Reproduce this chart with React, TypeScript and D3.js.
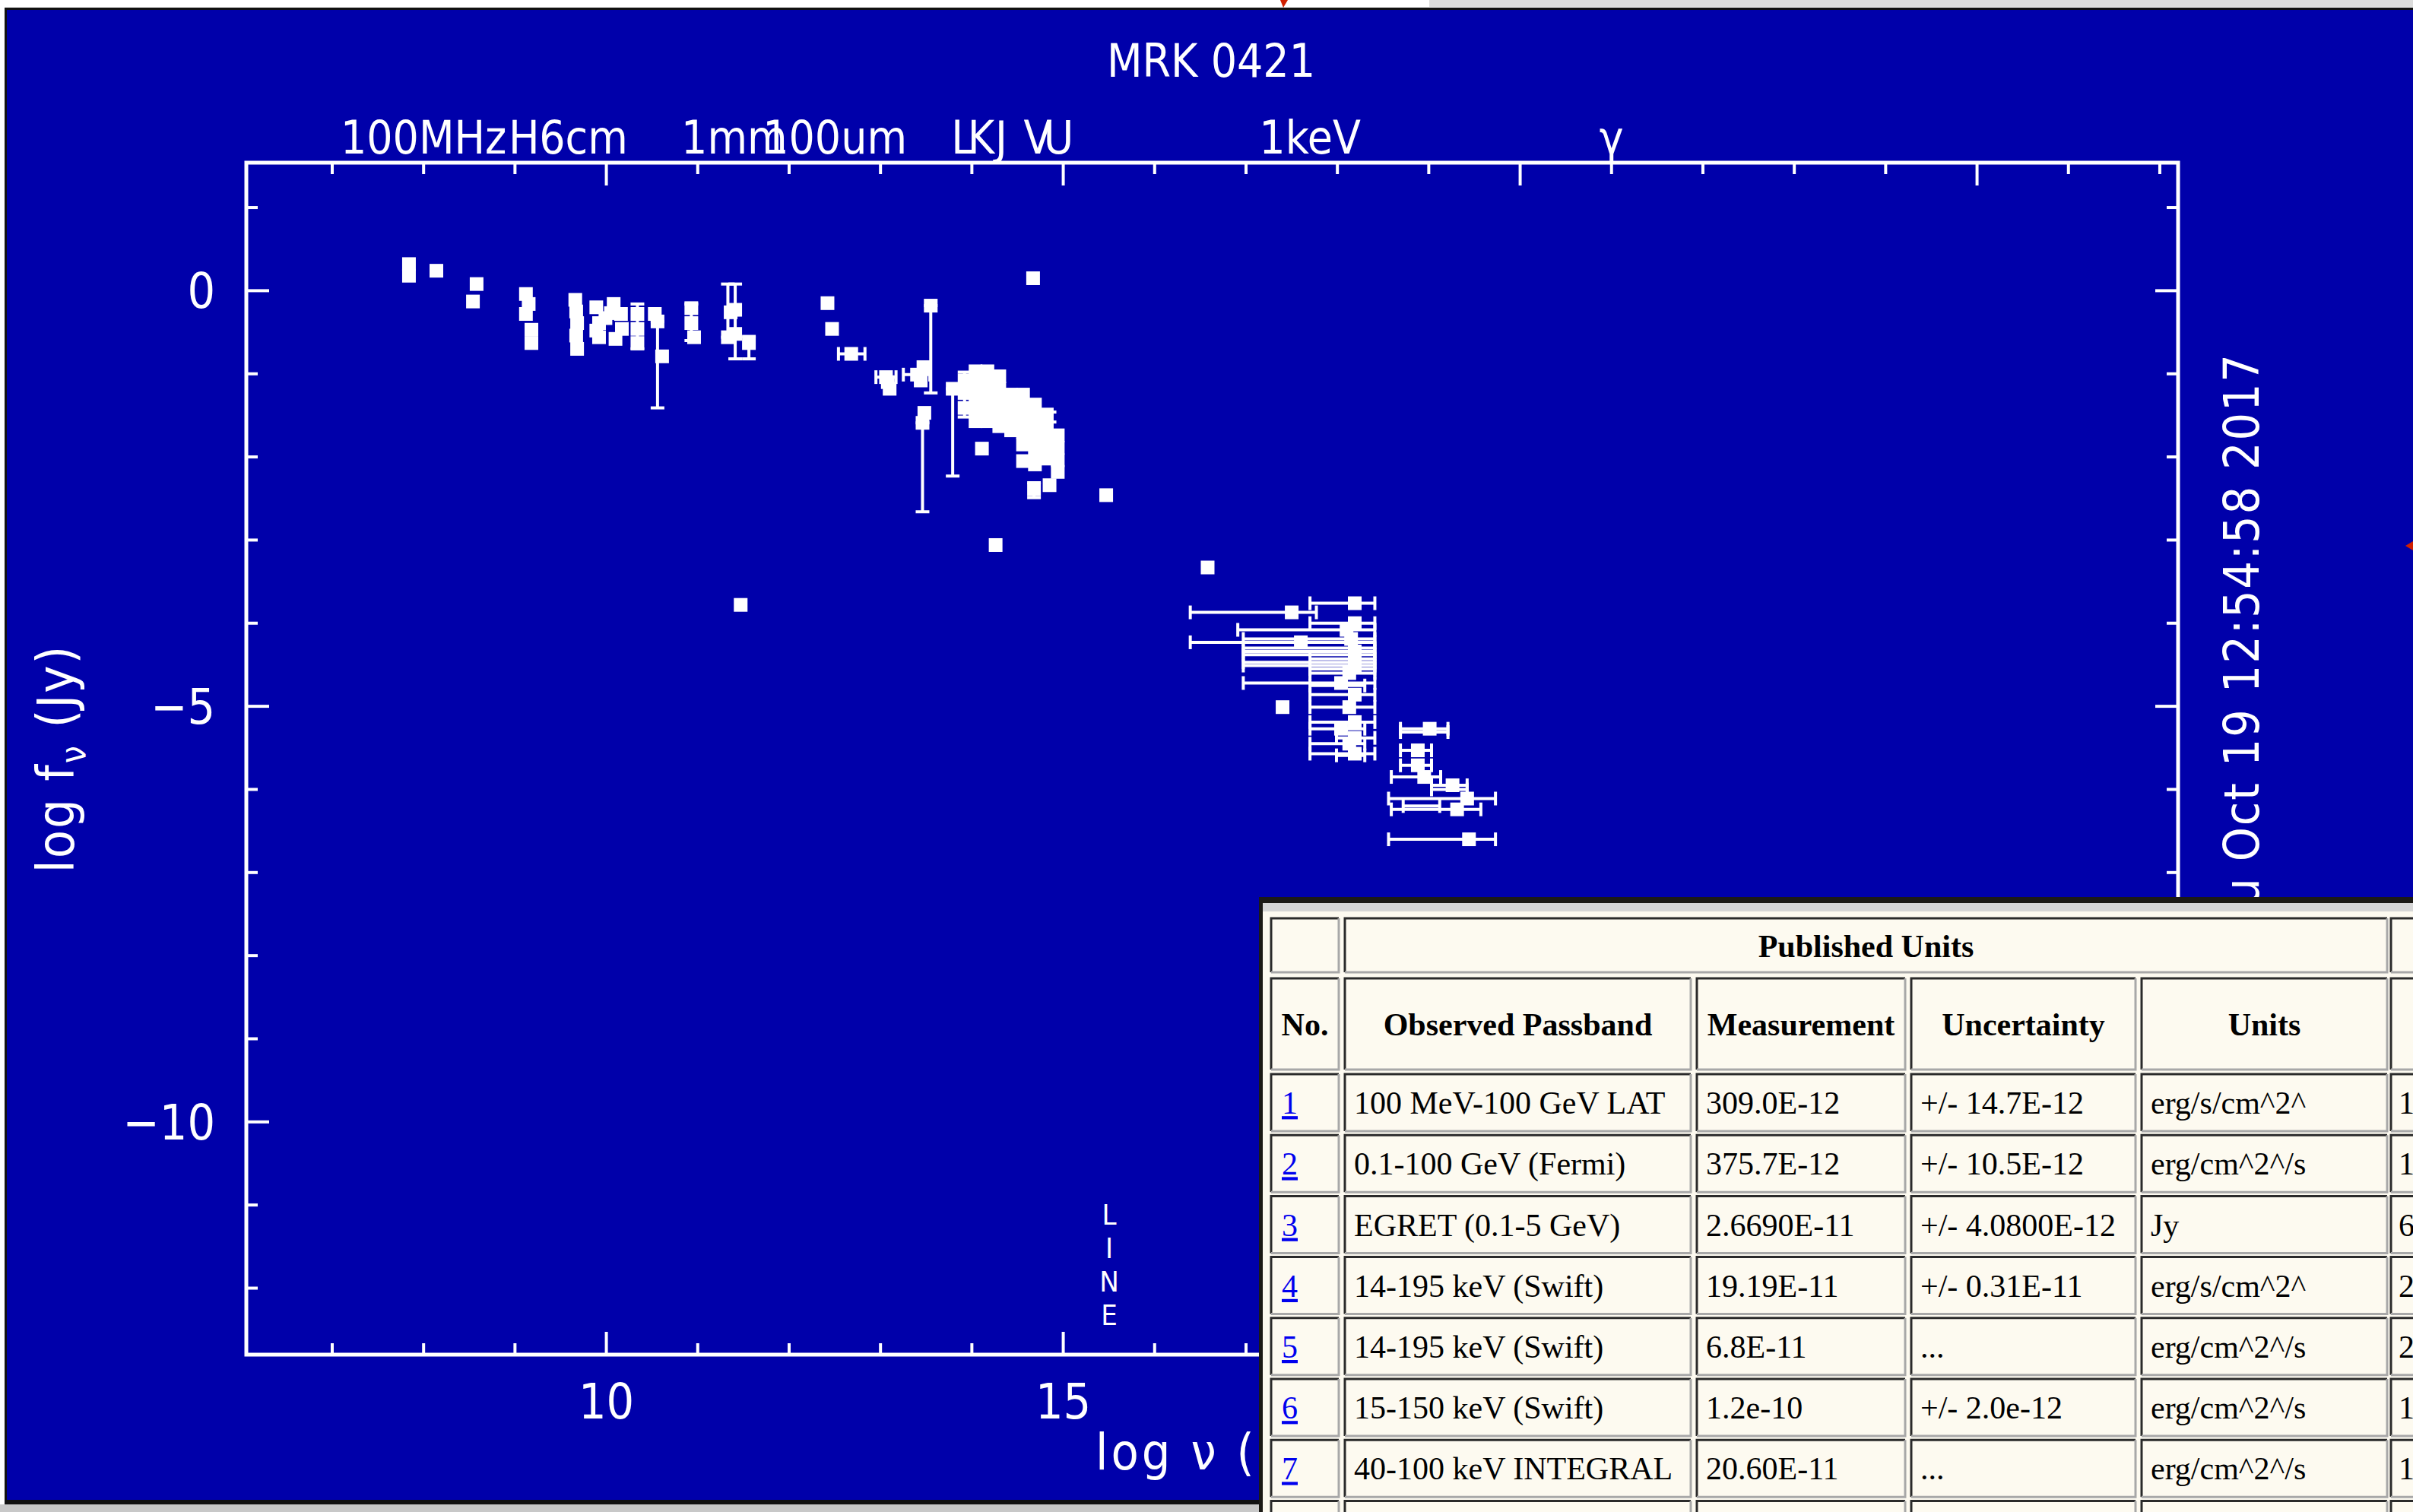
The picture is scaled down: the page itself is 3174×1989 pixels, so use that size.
import React from 'react';
import * as d3 from 'd3';

const W = 3174;
const H = 1989;
const BLUE = '#0000aa';
const CREAM = '#fdfaf0';
const PLOT_FONT = "'DejaVu Sans Condensed', 'DejaVu Sans', sans-serif";
const SERIF = "'Liberation Serif', 'Times New Roman', serif";

// axis labels
const xMajorLabels = [10, 15, 20, 25];
const yMajorLabels = [0, -5, -10];

// band labels on the top axis: [text, log nu]
const bandLabels: [string, number][] = [
  ['100MHz', 8.0], ['H', 9.1], ['6cm', 9.75], ['1mm', 11.4], ['100um', 12.5],
  ['L', 13.9], ['K', 14.1], ['J', 14.32], ['V', 14.72], ['U', 14.95],
  ['1keV', 17.7], ['γ', 21.0],
];

// [log nu, log f_nu]
const radioPoints = [
  [7.84, 0.32], [7.84, 0.18], [8.14, 0.24], [8.58, 0.08], [8.54, -0.13],
  [9.12, -0.04], [9.15, -0.16], [9.12, -0.28], [9.18, -0.47], [9.18, -0.63],
  [9.66, -0.11], [9.67, -0.25], [9.68, -0.39], [9.67, -0.54], [9.68, -0.7],
  [9.89, -0.2], [9.92, -0.39], [9.92, -0.56], [10.05, -0.27], [10.08, -0.16],
  [10.16, -0.28], [10.17, -0.46], [10.1, -0.58], [9.99, -0.33], [9.89, -0.48],
  [10.34, -0.28], [10.34, -0.46], [10.34, -0.63],
  [10.53, -0.28], [10.56, -0.37], [10.61, -0.79],
  [10.93, -0.21], [10.93, -0.39], [10.96, -0.56],
  [11.41, -0.23], [11.36, -0.26], [11.33, -0.56], [11.41, -0.52], [11.56, -0.63],
  [11.47, -3.78],
];

const irPoints = [
  [12.42, -0.15], [12.47, -0.46], [12.68, -0.76],
  [13.06, -1.04], [13.1, -1.18], [13.08, -1.1],
  [13.4, -1.01], [13.47, -0.92], [13.44, -1.08],
  [13.55, -0.18], [13.46, -1.59], [13.48, -1.47], [13.79, -1.18],
  [13.92, -1.08], [13.92, -1.23], [13.92, -1.41],
  [14.11, -1.9], [14.26, -3.06], [14.67, 0.15],
];

const opticalPoints = [
  [14.04, -0.97], [14.04, -1.12], [14.04, -1.27], [14.04, -1.42], [14.04, -1.57],
  [14.17, -0.97], [14.17, -1.12], [14.17, -1.27], [14.17, -1.42], [14.17, -1.57],
  [14.3, -1.03], [14.3, -1.18], [14.3, -1.33], [14.3, -1.48], [14.3, -1.63],
  [14.43, -1.25], [14.43, -1.4], [14.43, -1.55], [14.43, -1.68],
  [14.56, -1.25], [14.56, -1.4], [14.56, -1.55], [14.56, -1.7], [14.56, -1.85], [14.56, -2.05],
  [14.69, -1.37], [14.69, -1.52], [14.69, -1.67], [14.69, -1.82], [14.69, -1.97], [14.69, -2.09],
  [14.82, -1.49], [14.82, -1.64], [14.82, -1.79], [14.82, -1.94], [14.82, -2.02],
  [14.94, -1.74], [14.94, -1.89], [14.94, -2.04], [14.94, -2.18],
  [14.68, -2.39], [14.85, -2.34], [15.47, -2.46],
];

const xrayPoints = [
  [16.58, -3.33], [17.5, -3.87], [18.19, -3.76], [18.19, -4.0], [18.1, -4.08],
  [18.15, -4.19], [17.6, -4.23], [18.19, -4.34], [18.19, -4.43], [18.19, -4.51],
  [18.13, -4.6], [18.04, -4.72], [18.19, -4.86], [18.13, -5.01], [18.19, -5.19],
  [18.04, -5.27], [18.19, -5.38], [18.13, -5.45], [18.19, -5.57], [17.4, -5.01],
  [19.01, -5.27], [18.88, -5.53], [18.88, -5.71], [18.95, -5.85], [19.26, -5.95],
  [19.42, -6.11], [19.31, -6.24], [19.44, -6.6],
];

// [log nu, low, high]
const vErrBars = [
  [10.34, -0.7, -0.16], [10.56, -1.41, -0.37], [10.93, -0.6, -0.16],
  [11.33, -0.56, 0.08], [11.41, -0.82, 0.08], [11.56, -0.82, -0.55],
  [13.55, -1.23, -0.18], [13.46, -2.66, -1.59], [13.79, -2.23, -1.18],
  [13.92, -1.52, -0.98], [14.68, -2.49, -2.31], [14.85, -1.58, -1.46],
];

// [log f_nu, low nu, high nu]
const hErrBars = [
  [-0.76, 12.54, 12.83], [-1.04, 12.95, 13.17], [-1.01, 13.25, 13.54],
  [-3.87, 16.39, 17.77], [-3.76, 17.7, 18.41], [-4.0, 17.7, 18.41],
  [-4.08, 16.91, 18.41], [-4.19, 16.97, 18.41], [-4.23, 16.39, 18.41],
  [-4.3, 16.97, 18.41], [-4.34, 16.97, 18.41], [-4.38, 16.97, 18.41],
  [-4.43, 17.7, 18.41], [-4.47, 16.97, 18.41], [-4.51, 16.97, 18.41],
  [-4.55, 17.7, 18.41], [-4.6, 17.7, 18.41], [-4.72, 16.97, 18.41], [-4.75, 17.7, 18.3],
  [-4.86, 17.7, 18.41], [-5.01, 17.7, 18.41], [-5.19, 17.7, 18.41],
  [-5.27, 17.7, 18.3], [-5.38, 17.99, 18.41], [-5.45, 17.7, 18.3],
  [-5.57, 17.7, 18.41], [-5.59, 17.99, 18.3],
  [-5.27, 18.69, 19.21], [-5.31, 18.69, 19.21], [-5.53, 18.69, 19.03],
  [-5.71, 18.69, 19.03], [-5.85, 18.59, 19.13], [-5.95, 19.03, 19.42],
  [-6.0, 19.03, 19.42], [-6.11, 18.56, 19.73], [-6.2, 18.72, 19.12],
  [-6.24, 18.59, 19.57], [-6.6, 18.56, 19.73],
];

// table
const tableHeaders = ['No.', 'Observed Passband', 'Measurement', 'Uncertainty', 'Units'];
const rowNumbers = ['1', '2', '3', '4', '5', '6', '7'];
const passbands = ['100 MeV-100 GeV LAT', '0.1-100 GeV (Fermi)', 'EGRET (0.1-5 GeV)', '14-195 keV (Swift)', '14-195 keV (Swift)', '15-150 keV (Swift)', '40-100 keV INTEGRAL'];
const measurements = ['309.0E-12', '375.7E-12', '2.6690E-11', '19.19E-11', '6.8E-11', '1.2e-10', '20.60E-11'];
const uncertainties = ['+/- 14.7E-12', '+/- 10.5E-12', '+/- 4.0800E-12', '+/- 0.31E-11', '...', '+/- 2.0e-12', '...'];
const units = ['erg/s/cm^2^', 'erg/cm^2^/s', 'Jy', 'erg/s/cm^2^', 'erg/cm^2^/s', 'erg/cm^2^/s', 'erg/cm^2^/s'];
const lastColumn = ['1', '1', '6', '2', '2', '1', '1'];

const cols = [[1672, 1761], [1769, 2224], [2232, 2506], [2514, 2809], [2817, 3140], [3145, 3260]];
const rowTop = 1413;
const rowPitch = 80.2;
const rowH = 75;

function Cell({ x0, x1, y0, y1 }: { x0: number; x1: number; y0: number; y1: number }) {
  return (
    <g>
      <rect x={x0} y={y0} width={x1 - x0} height={y1 - y0} fill={CREAM} />
      <path d={`M${x0},${y1} V${y0} H${x1}`} fill="none" stroke="#2a2a2a" strokeWidth={3} />
      <path d={`M${x1},${y0} V${y1} H${x0}`} fill="none" stroke="#a8a8a8" strokeWidth={3} />
    </g>
  );
}

export default function App() {
  const x = d3.scaleLinear().domain([6.06, 27.2]).range([324, 2865]);
  const y = d3.scaleLinear().domain([1.54, -12.8]).range([214, 1782]);
  const xTicks = d3.range(7, 28);
  const yTicks = d3.range(1, -13, -1);
  const [L, R, T, B] = [324, 2865, 214, 1782];
  const ms = 18;
  const allPoints = [...radioPoints, ...irPoints, ...opticalPoints, ...xrayPoints];

  return (
    <svg width={W} height={H} style={{ position: 'absolute', left: 0, top: 0, display: 'block' }}>
      <defs>
        <clipPath id="plotClip">
          <path d={`M0,0 H${W} V1180 H1656 V${H} H0 Z`} />
        </clipPath>
      </defs>
      <rect width={W} height={H} fill="#fff" />
      <rect x={1880} y={0} width={W - 1880} height={9} fill="#dcdcdc" />
      <rect x={6} y={10} width={W - 6} height={1969} fill="#111" />
      <rect x={9} y={13} width={W - 9} height={1960} fill={BLUE} />
      <rect x={0} y={1979} width={W} height={10} fill="#c8c8c8" />
      <polygon points="1684,0 1694,0 1688,10" fill="#d02000" />
      <polygon points="3174,712 3164,718 3174,724" fill="#d02000" />

      <g clipPath="url(#plotClip)">
        {/* title */}
        <text x={1593} y={101} fill="#fff" fontFamily={PLOT_FONT} fontSize={60} textAnchor="middle">MRK 0421</text>

        {/* band labels */}
        {bandLabels.map(([t, v]) => (
          <text key={t + v} x={x(v)} y={202} fill="#fff" fontFamily={PLOT_FONT} fontSize={60} textAnchor="middle">{t}</text>
        ))}

        {/* frame */}
        <rect x={L} y={T} width={R - L} height={B - T} fill="none" stroke="#fff" strokeWidth={5} />
        {xTicks.map(t => {
          const len = t % 5 === 0 ? 30 : 15;
          return (
            <g key={'xt' + t}>
              <line x1={x(t)} x2={x(t)} y1={B} y2={B - len} stroke="#fff" strokeWidth={4} />
              <line x1={x(t)} x2={x(t)} y1={T} y2={T + len} stroke="#fff" strokeWidth={4} />
            </g>
          );
        })}
        {yTicks.map(t => {
          const len = t % 5 === 0 ? 30 : 15;
          return (
            <g key={'yt' + t}>
              <line x1={L} x2={L + len} y1={y(t)} y2={y(t)} stroke="#fff" strokeWidth={4} />
              <line x1={R} x2={R - len} y1={y(t)} y2={y(t)} stroke="#fff" strokeWidth={4} />
            </g>
          );
        })}
        {xMajorLabels.map(t => (
          <text key={'xl' + t} x={x(t)} y={1866} fill="#fff" fontFamily={PLOT_FONT} fontSize={64} textAnchor="middle">{t}</text>
        ))}
        {yMajorLabels.map(t => (
          <text key={'yl' + t} x={283} y={y(t)} dy="0.36em" fill="#fff" fontFamily={PLOT_FONT} fontSize={64} textAnchor="end">
            {t === 0 ? '0' : '\u2212' + Math.abs(t)}
          </text>
        ))}

        {/* axis titles */}
        <text x={1441} y={1933} fill="#fff" fontFamily={PLOT_FONT} fontSize={66} letterSpacing={4}>log ν (Hz)</text>
        <text transform="translate(97,998) rotate(-90)" fill="#fff" fontFamily={PLOT_FONT} fontSize={68} textAnchor="middle" letterSpacing={2}>
          log f<tspan fontSize={46} dy={15}>ν</tspan><tspan dy={-15}> (Jy)</tspan>
        </text>
        <text transform="translate(2971,466) rotate(-90)" fill="#fff" fontFamily={PLOT_FONT} fontSize={64} textAnchor="end"
          textLength={801} lengthAdjust="spacing">
          Thu Oct 19 12:54:58 2017
        </text>
        {['L', 'I', 'N', 'E'].map((c, i) => (
          <text key={c} x={1459} y={1611 + i * 44} fill="#fff" fontFamily={PLOT_FONT} fontSize={38} textAnchor="middle">{c}</text>
        ))}

        {/* error bars */}
        <g stroke="#fff" strokeWidth={4}>
          {vErrBars.map(([v, lo, hi], i) => (
            <g key={'ve' + i}>
              <line x1={x(v)} x2={x(v)} y1={y(lo)} y2={y(hi)} />
              <line x1={x(v) - 9} x2={x(v) + 9} y1={y(lo)} y2={y(lo)} />
              <line x1={x(v) - 9} x2={x(v) + 9} y1={y(hi)} y2={y(hi)} />
            </g>
          ))}
          {hErrBars.map(([f, lo, hi], i) => (
            <g key={'he' + i}>
              <line x1={x(lo)} x2={x(hi)} y1={y(f)} y2={y(f)} />
              <line x1={x(lo)} x2={x(lo)} y1={y(f) - 9} y2={y(f) + 9} />
              <line x1={x(hi)} x2={x(hi)} y1={y(f) - 9} y2={y(f) + 9} />
            </g>
          ))}
        </g>

        {/* points */}
        {allPoints.map(([v, f], i) => (
          <rect key={'p' + i} x={x(v) - ms / 2} y={y(f) - ms / 2} width={ms} height={ms} fill="#fff" />
        ))}
      </g>

      {/* table overlay */}
      <g fontFamily={SERIF} fontSize={42}>
        <rect x={1656} y={1180} width={W - 1656} height={H - 1180} fill={CREAM} />
        <rect x={1656} y={1180} width={W - 1656} height={8} fill="#1c1a16" />
        <rect x={1660} y={1188} width={W - 1660} height={11} fill="#d6d6d6" />
        <rect x={1656} y={1180} width={5} height={H - 1180} fill="#1c1a16" />

        <Cell x0={cols[0][0]} x1={cols[0][1]} y0={1208} y1={1279} />
        <Cell x0={cols[1][0]} x1={cols[4][1]} y0={1208} y1={1279} />
        <Cell x0={cols[5][0]} x1={cols[5][1]} y0={1208} y1={1279} />
        <text x={(cols[1][0] + cols[4][1]) / 2} y={1244} dy="0.35em" textAnchor="middle" fontWeight="bold" fill="#000">Published Units</text>

        {cols.map((c, j) => (
          <Cell key={'h' + j} x0={c[0]} x1={c[1]} y0={1287} y1={1407} />
        ))}
        {tableHeaders.map((h, j) => (
          <text key={h} x={(cols[j][0] + cols[j][1]) / 2} y={1347} dy="0.35em" textAnchor="middle" fontWeight="bold" fill="#000">{h}</text>
        ))}

        {d3.range(8).map(r => {
          const y0 = rowTop + r * rowPitch;
          const cy = y0 + rowH / 2;
          return (
            <g key={'r' + r}>
              {cols.map((c, j) => (
                <Cell key={j} x0={c[0]} x1={c[1]} y0={y0} y1={y0 + rowH} />
              ))}
              {r < 7 && (
                <g fill="#000">
                  <text x={cols[0][0] + 14} y={cy} dy="0.35em" fill="#0000ee" style={{ textDecoration: 'underline' }}>{rowNumbers[r]}</text>
                  <text x={cols[1][0] + 12} y={cy} dy="0.35em">{passbands[r]}</text>
                  <text x={cols[2][0] + 12} y={cy} dy="0.35em">{measurements[r]}</text>
                  <text x={cols[3][0] + 12} y={cy} dy="0.35em">{uncertainties[r]}</text>
                  <text x={cols[4][0] + 12} y={cy} dy="0.35em">{units[r]}</text>
                  <text x={cols[5][0] + 10} y={cy} dy="0.35em">{lastColumn[r]}</text>
                </g>
              )}
            </g>
          );
        })}
      </g>
    </svg>
  );
}
